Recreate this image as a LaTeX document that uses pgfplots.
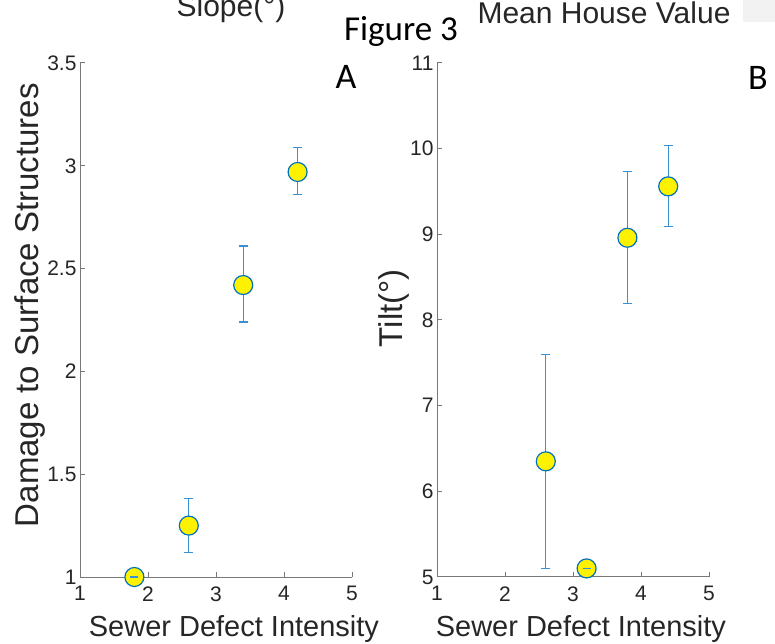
\documentclass[border=0pt]{standalone}
\usepackage{pgfplots}
\pgfplotsset{compat=1.18}
\usepackage{fontspec}
\setmainfont{Liberation Sans}
\newfontfamily\calib{Carlito}

\definecolor{mblue}{RGB}{0,114,189}
\definecolor{ebar}{RGB}{55,145,212}
\definecolor{axgray}{RGB}{120,120,120}
\definecolor{txt}{RGB}{38,38,38}

\pgfplotsset{
  panel/.style={
    scale only axis, width=272pt, height=514pt,
    xmin=1, xmax=5, xtick={1,2,3,4,5},
    axis x line*=bottom, axis y line*=left,
    axis line style={axgray, line width=1pt, -},
    tick style={axgray, line width=1pt},
    major tick length=5pt, tick align=inside,
    clip=false,
    /pgf/number format/assume math mode=true,
    tick label style={font=\fontsize{21}{21}\selectfont, text=txt},
    xticklabel style={yshift=-6pt},
    xlabel style={font=\fontsize{29}{29}\selectfont, text=txt, anchor=base},
    ylabel style={font=\fontsize{33}{33}\selectfont, text=txt, anchor=base},
    title style={font=\fontsize{30}{30}\selectfont, text=txt, anchor=base},
  },
  errs/.style={only marks, mark=none, ebar,
    error bars/.cd, y dir=both, y explicit,
    error mark=-,
    error bar style={line width=1.2pt, ebar},
    error mark options={rotate=90, ebar, mark size=4.5pt, line width=1.2pt}},
  dots/.style={only marks, mark=*, mark size=9.5pt,
    mark options={fill=yellow, draw=mblue, line width=1.2pt}},
  % near-zero error bar: only the cap shows, on top of the marker
  cap/.style={only marks, mark=-, mark size=4pt,
    mark options={ebar, line width=1.2pt}},
}

\begin{document}
\begin{tikzpicture}

% panel A
\begin{axis}[panel, at={(80pt,67pt)}, anchor=south west,
  ymin=1, ymax=3.5, ytick={1,1.5,2,2.5,3,3.5},
  xlabel={Sewer Defect Intensity},
  xlabel style={at={(axis description cs:0.566,-0.1148)}},
  ylabel={Damage to Surface Structures},
  ylabel style={at={(axis description cs:-0.1544,0.529)}},
  title={Slope(°)},
  title style={at={(axis description cs:0.555,1.0778)}}]
\addplot[errs] coordinates {
  (2.6,1.25) += (0,0.13) -= (0,0.13)
  (3.4,2.42) += (0,0.19) -= (0,0.18)
  (4.2,2.97) += (0,0.12) -= (0,0.11)
};
\addplot[dots] coordinates {(1.8,1.0) (2.6,1.25) (3.4,2.42) (4.2,2.97)};
\addplot[cap] coordinates {(1.8,1.0)};
\end{axis}

% panel B
\begin{axis}[panel, at={(437pt,67pt)}, anchor=south west,
  ymin=5, ymax=11, ytick={5,6,...,11},
  xlabel={Sewer Defect Intensity},
  xlabel style={at={(axis description cs:0.529,-0.1148)}},
  ylabel={Tilt(°)},
  ylabel style={at={(axis description cs:-0.1287,0.523)}},
  title={Mean House Value},
  title style={at={(axis description cs:0.614,1.0661)}}]
\addplot[errs] coordinates {
  (2.6,6.35) += (0,1.25) -= (0,1.25)
  (3.8,8.96) += (0,0.77) -= (0,0.77)
  (4.4,9.56) += (0,0.48) -= (0,0.47)
};
\addplot[dots] coordinates {(2.6,6.35) (3.2,5.1) (3.8,8.96) (4.4,9.56)};
\addplot[cap] coordinates {(3.2,5.1)};
\end{axis}

\node[font=\calib\fontsize{35}{35}\selectfont, anchor=base] at (401pt,603pt) {Figure 3};
\node[font=\calib\fontsize{36}{36}\selectfont, anchor=base] at (346pt,555pt) {A};
\node[font=\calib\fontsize{36}{36}\selectfont, anchor=base] at (758pt,554pt) {B};
\fill[black!5] (743pt,622pt) rectangle (775pt,644pt);

\pgfresetboundingbox
\path[use as bounding box] (0,0) rectangle (775pt,644pt);
\end{tikzpicture}
\end{document}
